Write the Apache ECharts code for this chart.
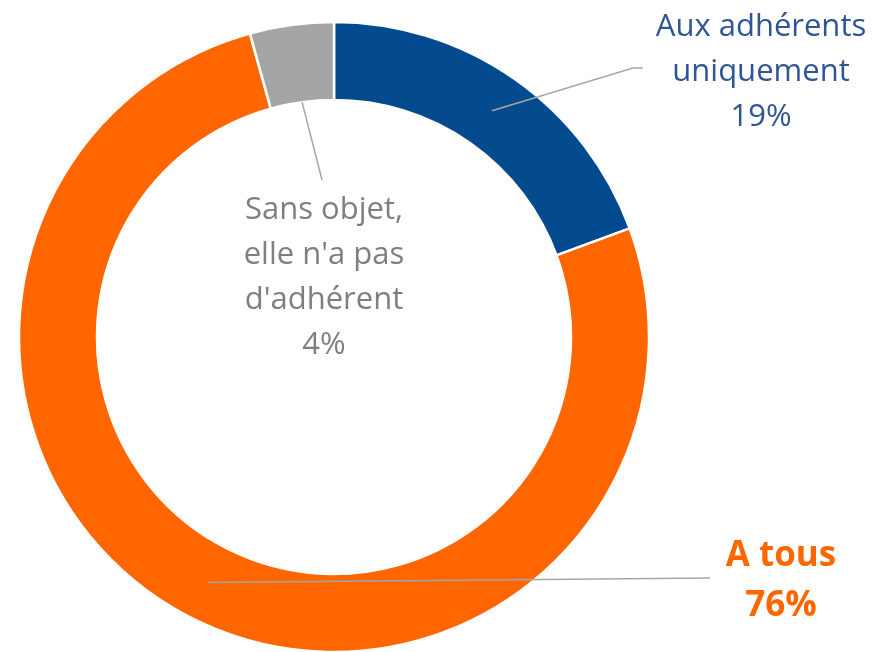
<!DOCTYPE html>
<html>
<head>
<meta charset="utf-8">
<script src="https://cdn.jsdelivr.net/npm/echarts@6/dist/echarts.min.js"></script>
<style>
  html, body { margin: 0; padding: 0; background: #fff; }
  #main { width: 877px; height: 652px; }
</style>
</head>
<body>
<div id="main"></div>
<script>
// donut data (starting at 12 o'clock, clockwise)
var names = ['Aux adhérents\nuniquement', 'A tous', "Sans objet,\nelle n'a pas\nd'adhérent"];
var values = [19.4, 76.3, 4.3];   // shares as drawn; labels are rounded
var colors = ['#044A8F', '#FF6600', '#A5A5A5'];
var labelColors = ['#2F5597', '#FF6600', '#7F7F7F'];

// ring geometry
var cx = 334, cy = 337, r0 = 237, r1 = 315;

// where each label sits, and where its leader line ends
var labelPos = [[761, 72], [781, 581], [324, 278]];
var lineEnds = [[[633, 68], [643, 68]], [[710, 578]], [[322, 180]]];
// leader line starts on the middle of the band (gray one on the inner edge)
var lineStartR = [(r0 + r1) / 2, (r0 + r1) / 2, r0];

var total = values.reduce(function(a, b){ return a + b; }, 0);

var pieData = values.map(function(v, i){
    return {
        value: v,
        name: names[i],
        itemStyle: { color: colors[i] },
        label: {
            color: labelColors[i],
            fontWeight: i === 1 ? 'bold' : 'normal',
            fontSize: i === 1 ? 35 : 31,
            lineHeight: i === 1 ? 50 : 45
        }
    };
});

// leader lines from the slice mid angle
var guides = [];
var acc = 0;
values.forEach(function(v, i){
    var mid = (acc + v / 2) / total * Math.PI * 2;
    acc += v;
    var sx = cx + lineStartR[i] * Math.sin(mid);
    var sy = cy - lineStartR[i] * Math.cos(mid);
    var pts = [[sx, sy]].concat(lineEnds[i]);
    guides.push({
        type: 'polyline',
        z: 100,
        shape: { points: pts },
        style: { stroke: '#A6A6A6', lineWidth: 1.5, fill: null }
    });
});

var myChart = echarts.init(document.getElementById('main'));
var option = {
    backgroundColor: '#ffffff',
    animation: false,
    graphic: guides,
    series: [
        {
            type: 'pie',
            center: [cx, cy],
            radius: [r0, r1],
            startAngle: 90,
            clockwise: true,
            avoidLabelOverlap: false,
            itemStyle: { borderColor: '#ffffff', borderWidth: 2.5 },
            label: {
                show: true,
                position: 'outside',
                fontFamily: 'Open Sans',
                align: 'center',
                formatter: function(p){
                    return p.name + '\n' + Math.round(p.value) + '%';
                }
            },
            labelLine: { show: false },
            labelLayout: function(p){
                var pos = labelPos[p.dataIndex];
                return { x: pos[0], y: pos[1], align: 'center', verticalAlign: 'middle' };
            },
            data: pieData
        }
    ]
};
myChart.setOption(option);
</script>
</body>
</html>
